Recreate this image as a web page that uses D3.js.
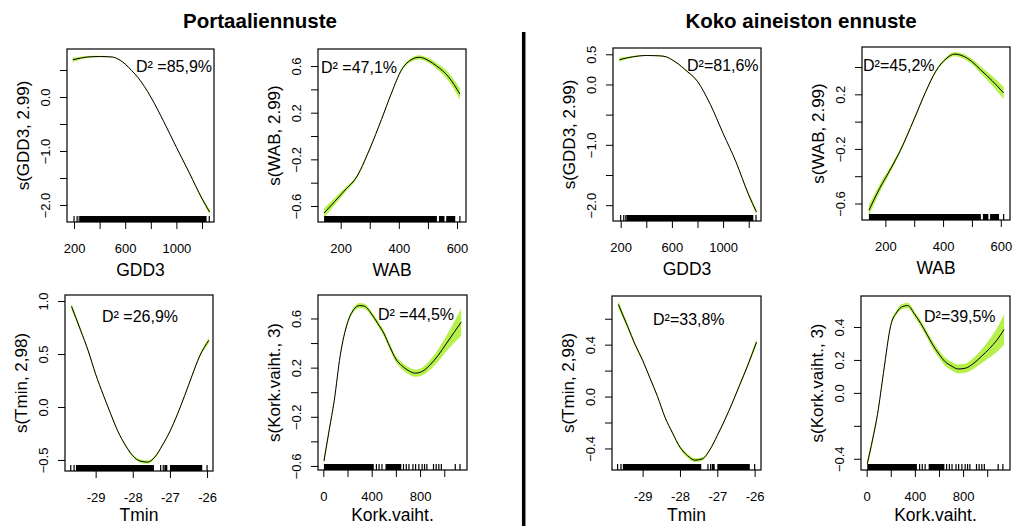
<!DOCTYPE html>
<html>
<head>
<meta charset="utf-8">
<script src="https://cdn.jsdelivr.net/npm/d3@7"></script>
<style>
  body { margin: 0; background: #fff; }
  svg text { font-family: "Liberation Sans", Arial, sans-serif; fill: #000; }
</style>
</head>
<body>
<svg id="chart" width="1013" height="526"></svg>
<script>
const titles = ["Portaaliennuste", "Koko aineiston ennuste"];

// GDD3 smooth, left = portaali, right = koko aineisto
const gddX     = [190, 250, 300, 400, 500, 560, 600, 650, 700, 800, 900, 1000, 1100, 1200, 1260];
const gddFitL  = [0.69, 0.72, 0.74, 0.75, 0.74, 0.68, 0.61, 0.49, 0.36, 0.0, -0.45, -0.93, -1.40, -1.88, -2.13];
const gddBandL = [0.04, 0.025, 0.02, 0.012, 0.01, 0.01, 0.01, 0.01, 0.01, 0.01, 0.01, 0.012, 0.018, 0.03, 0.045];
const gddFitR  = [0.41, 0.44, 0.46, 0.48, 0.475, 0.455, 0.41, 0.34, 0.25, 0.05, -0.33, -0.81, -1.28, -1.83, -2.11];
const gddBandR = [0.035, 0.02, 0.015, 0.01, 0.01, 0.01, 0.01, 0.01, 0.01, 0.01, 0.01, 0.012, 0.018, 0.03, 0.045];
const gddRugTicks  = [200, 224, 240, 1257];
const gddRugBlocks = [[245, 1236]];

// WAB
const wabX     = [143, 180, 220, 250, 300, 340, 375, 410, 440, 470, 500, 530, 570, 610];
const wabFitL  = [-0.66, -0.56, -0.45, -0.37, -0.11, 0.14, 0.37, 0.57, 0.65, 0.675, 0.65, 0.60, 0.51, 0.36];
const wabBandL = [0.04, 0.03, 0.02, 0.015, 0.012, 0.01, 0.01, 0.012, 0.015, 0.018, 0.02, 0.025, 0.035, 0.05];
const wabFitR  = [-0.65, -0.49, -0.34, -0.22, 0.02, 0.22, 0.37, 0.46, 0.495, 0.48, 0.44, 0.38, 0.30, 0.21];
const wabBandR = [0.04, 0.03, 0.02, 0.015, 0.012, 0.01, 0.01, 0.012, 0.015, 0.018, 0.02, 0.025, 0.035, 0.045];
const wabRugTicks  = [610];
const wabRugBlocks = [[143, 531], [538, 557], [563, 594]];

// Tmin
const tminX     = [-29.65, -29.4, -29.2, -29.0, -28.8, -28.6, -28.4, -28.2, -28.0, -27.8, -27.6, -27.4, -27.2, -27.0, -26.8, -26.6, -26.4, -26.2, -25.95];
const tminFitL  = [0.95, 0.72, 0.53, 0.31, 0.12, -0.06, -0.23, -0.36, -0.46, -0.51, -0.52, -0.47, -0.36, -0.23, -0.07, 0.11, 0.30, 0.48, 0.63];
const tminBandL = [0.03, 0.02, 0.015, 0.012, 0.01, 0.01, 0.01, 0.01, 0.012, 0.015, 0.015, 0.012, 0.01, 0.01, 0.01, 0.01, 0.012, 0.015, 0.025];
const tminFitR  = [0.71, 0.54, 0.40, 0.28, 0.14, 0.0, -0.16, -0.28, -0.39, -0.455, -0.49, -0.48, -0.41, -0.30, -0.18, -0.05, 0.09, 0.23, 0.42];
const tminBandR = [0.03, 0.02, 0.015, 0.012, 0.01, 0.01, 0.01, 0.01, 0.012, 0.015, 0.015, 0.012, 0.01, 0.01, 0.01, 0.01, 0.012, 0.015, 0.025];
const tminRugTicks  = [-29.67, -29.58, -27.25, -27.18, -26.0];
const tminRugBlocks = [[-29.53, -27.43], [-27.15, -27.07], [-27.0, -26.13]];

// Kork.vaiht.
const korkX     = [5, 50, 90, 140, 200, 250, 300, 340, 400, 450, 500, 550, 600, 650, 700, 760, 820, 880, 950, 1020, 1080, 1140];
const korkFitL  = [-0.56, -0.30, -0.07, 0.30, 0.565, 0.67, 0.705, 0.70, 0.635, 0.56, 0.48, 0.37, 0.27, 0.215, 0.178, 0.155, 0.17, 0.22, 0.30, 0.40, 0.485, 0.57];
const korkBandL = [0.03, 0.025, 0.02, 0.018, 0.018, 0.018, 0.02, 0.02, 0.02, 0.022, 0.025, 0.025, 0.027, 0.028, 0.03, 0.03, 0.032, 0.04, 0.05, 0.065, 0.085, 0.11];
const korkFitR  = [-0.43, -0.28, -0.13, 0.125, 0.41, 0.49, 0.525, 0.53, 0.475, 0.42, 0.355, 0.29, 0.235, 0.19, 0.165, 0.145, 0.15, 0.175, 0.22, 0.27, 0.32, 0.385];
const korkBandR = [0.025, 0.02, 0.017, 0.015, 0.015, 0.015, 0.016, 0.017, 0.018, 0.02, 0.02, 0.022, 0.024, 0.025, 0.026, 0.027, 0.028, 0.033, 0.042, 0.055, 0.072, 0.092];
const korkRugTicks  = [439, 461, 485, 663, 686, 708, 741, 763, 790, 817, 837, 856, 911, 933, 955, 976, 1091, 1130];
const korkRugBlocks = [[5, 417], [514, 645]];

// x axis ticks / which of them get a label
const gddTicks  = [200, 400, 600, 800, 1000, 1200];
const gddLabels = [200, 600, 1000];
const wabTicks  = [200, 300, 400, 500, 600];
const wabLabels = [200, 400, 600];
const tminTicks = [-29, -28, -27, -26];
const tminLabels = [-29, -28, -27, -26];
const korkTicks = [0, 200, 400, 600, 800, 1000];
const korkLabels = [0, 400, 800];

// y axis ticks / labels per panel
const gddYTicks   = [-2, -1.5, -1, -0.5, 0, 0.5];
const gddYLabelsL = [-2, -1, 0];
const gddYLabelsR = [-2, -1, 0, 0.5];
const wabYTicksL  = [-0.6, -0.4, -0.2, 0, 0.2, 0.4, 0.6];
const wabYLabelsL = [-0.6, -0.2, 0.2, 0.6];
const wabYTicksR  = [-0.6, -0.4, -0.2, 0, 0.2, 0.4];
const wabYLabelsR = [-0.6, -0.2, 0.2];
const tminYTicksL  = [-0.5, 0, 0.5, 1];
const tminYLabelsL = [-0.5, 0, 0.5, 1];
const tminYTicksR  = [-0.4, -0.2, 0, 0.2, 0.4, 0.6];
const tminYLabelsR = [-0.4, 0, 0.4];
const korkYTicksL  = [-0.6, -0.4, -0.2, 0, 0.2, 0.4, 0.6];
const korkYLabelsL = [-0.6, -0.2, 0.2, 0.6];
const korkYTicksR  = [-0.4, -0.2, 0, 0.2, 0.4];
const korkYLabelsR = [-0.4, 0, 0.2, 0.4];

const d2Texts = ["D\u00b2 =85,9%", "D\u00b2 =47,1%", "D\u00b2 =26,9%", "D\u00b2 =44,5%",
                 "D\u00b2=81,6%", "D\u00b2=45,2%", "D\u00b2=33,8%", "D\u00b2=39,5%"];

const bandColor = "#b6f04a";

// panel layout: box = [left, top, right, bottom] in px, d2 = label start/baseline
const panels = [
  {box: [67, 49, 214, 222], xd: [145, 1294], yd: [-2.315, 0.889], x: gddX, fit: gddFitL, band: gddBandL,
   rugT: gddRugTicks, rugB: gddRugBlocks, xt: gddTicks, xl: gddLabels, yt: gddYTicks, yl: gddYLabelsL,
   xTitle: "GDD3", yTitle: "s(GDD3, 2.99)", d2: [136, 72]},
  {box: [318, 49, 466, 222], xd: [122, 631], yd: [-0.737, 0.746], x: wabX, fit: wabFitL, band: wabBandL,
   rugT: wabRugTicks, rugB: wabRugBlocks, xt: wabTicks, xl: wabLabels, yt: wabYTicksL, yl: wabYLabelsL,
   xTitle: "WAB", yTitle: "s(WAB, 2.99)", d2: [321, 73]},
  {box: [65, 295, 213, 471], xd: [-29.825, -25.84], yd: [-0.604, 1.057], x: tminX, fit: tminFitL, band: tminBandL,
   rugT: tminRugTicks, rugB: tminRugBlocks, xt: tminTicks, xl: tminLabels, yt: tminYTicksL, yl: tminYLabelsL,
   xTitle: "Tmin", yTitle: "s(Tmin, 2,98)", d2: [102, 322]},
  {box: [318, 295, 467, 470], xd: [-44, 1188], yd: [-0.633, 0.791], x: korkX, fit: korkFitL, band: korkBandL,
   rugT: korkRugTicks, rugB: korkRugBlocks, xt: korkTicks, xl: korkLabels, yt: korkYTicksL, yl: korkYLabelsL,
   xTitle: "Kork.vaiht.", yTitle: "s(Kork.vaiht., 3)", d2: [378, 320]},
  {box: [613, 48, 761, 221], xd: [140, 1296], yd: [-2.262, 0.604], x: gddX, fit: gddFitR, band: gddBandR,
   rugT: gddRugTicks, rugB: gddRugBlocks, xt: gddTicks, xl: gddLabels, yt: gddYTicks, yl: gddYLabelsR,
   xTitle: "GDD3", yTitle: "s(GDD3, 2.99)", d2: [687, 71]},
  {box: [862, 47, 1010, 220], xd: [119, 632], yd: [-0.721, 0.547], x: wabX, fit: wabFitR, band: wabBandR,
   rugT: wabRugTicks, rugB: wabRugBlocks, xt: wabTicks, xl: wabLabels, yt: wabYTicksR, yl: wabYLabelsR,
   xTitle: "WAB", yTitle: "s(WAB, 2.99)", d2: [863, 71]},
  {box: [612, 296, 761, 470], xd: [-29.82, -25.83], yd: [-0.566, 0.775], x: tminX, fit: tminFitR, band: tminBandR,
   rugT: tminRugTicks, rugB: tminRugBlocks, xt: tminTicks, xl: tminLabels, yt: tminYTicksR, yl: tminYLabelsR,
   xTitle: "Tmin", yTitle: "s(Tmin, 2,98)", d2: [653, 325]},
  {box: [861, 296, 1010, 470], xd: [-47, 1189], yd: [-0.468, 0.588], x: korkX, fit: korkFitR, band: korkBandR,
   rugT: korkRugTicks, rugB: korkRugBlocks, xt: korkTicks, xl: korkLabels, yt: korkYTicksR, yl: korkYLabelsR,
   xTitle: "Kork.vaiht.", yTitle: "s(Kork.vaiht., 3)", d2: [924, 322]}
];

const svg = d3.select("#chart");
const yFmt = d3.format(".1f");

function drawPanel(p, i){
  const [x0, y0, x1, y1] = p.box;
  const x = d3.scaleLinear().domain(p.xd).range([x0, x1]);
  const y = d3.scaleLinear().domain(p.yd).range([y1, y0]);
  const g = svg.append("g");
  const pts = p.x.map((v, k) => ({x: v, fit: p.fit[k], se: p.band[k]}));

  g.append("path").datum(pts)
    .attr("d", d3.area().x(d => x(d.x)).y0(d => y(d.fit - d.se)).y1(d => y(d.fit + d.se)).curve(d3.curveMonotoneX))
    .attr("fill", bandColor);
  g.append("path").datum(pts)
    .attr("d", d3.line().x(d => x(d.x)).y(d => y(d.fit)).curve(d3.curveMonotoneX))
    .attr("fill", "none").attr("stroke", "#000").attr("stroke-width", 1);

  // rug: solid runs where the ticks merge, single lines elsewhere
  g.selectAll("rect.rug").data(p.rugB).enter().append("rect")
    .attr("x", d => x(d[0])).attr("width", d => x(d[1]) - x(d[0]))
    .attr("y", y1 - 6).attr("height", 6).attr("fill", "#000");
  g.selectAll("line.rug").data(p.rugT).enter().append("line")
    .attr("x1", d => x(d)).attr("x2", d => x(d))
    .attr("y1", y1 - 6).attr("y2", y1).attr("stroke", "#000").attr("stroke-width", 1.2);

  g.append("rect").attr("x", x0).attr("y", y0).attr("width", x1 - x0).attr("height", y1 - y0)
    .attr("fill", "none").attr("stroke", "#000").attr("stroke-width", 1.2);

  const xa = g.append("g").attr("transform", "translate(0," + y1 + ")")
    .call(d3.axisBottom(x).tickValues(p.xt).tickSize(7).tickFormat(d => p.xl.includes(d) ? d : ""));
  xa.select(".domain").remove();
  xa.selectAll("line").attr("stroke", "#000");
  xa.selectAll("text").attr("y", 31).attr("dy", null).attr("font-size", 13)
    .style("font-family", "Liberation Sans, Arial, sans-serif");

  const ya = g.append("g").attr("transform", "translate(" + x0 + ",0)")
    .call(d3.axisLeft(y).tickValues(p.yt).tickSize(7).tickFormat(d => p.yl.includes(d) ? yFmt(d) : ""));
  ya.select(".domain").remove();
  ya.selectAll("line").attr("stroke", "#000");
  ya.selectAll("text").attr("x", 0).attr("y", -17).attr("dy", null)
    .attr("transform", "rotate(-90)").attr("text-anchor", "middle").attr("font-size", 13)
    .style("font-family", "Liberation Sans, Arial, sans-serif");

  g.append("text").attr("x", (x0 + x1) / 2).attr("y", Math.min(y1 + 54, 521))
    .attr("text-anchor", "middle").attr("font-size", 17.5).text(p.xTitle);
  g.append("text").attr("transform", "translate(" + (x0 - 38) + "," + ((y0 + y1) / 2) + ") rotate(-90)")
    .attr("text-anchor", "middle").attr("font-size", 17).text(p.yTitle);
  g.append("text").attr("x", p.d2[0]).attr("y", p.d2[1]).attr("font-size", 16).text(d2Texts[i]);
}

panels.forEach(drawPanel);

svg.selectAll("text.main").data(titles).enter().append("text")
  .attr("x", (d, i) => i === 0 ? 260 : 801).attr("y", 28)
  .attr("text-anchor", "middle").attr("font-size", 20.5).attr("font-weight", "bold")
  .text(d => d);

svg.append("line").attr("x1", 523.7).attr("x2", 523.7).attr("y1", 32).attr("y2", 526)
  .attr("stroke", "#000").attr("stroke-width", 3.5);
</script>
</body>
</html>
